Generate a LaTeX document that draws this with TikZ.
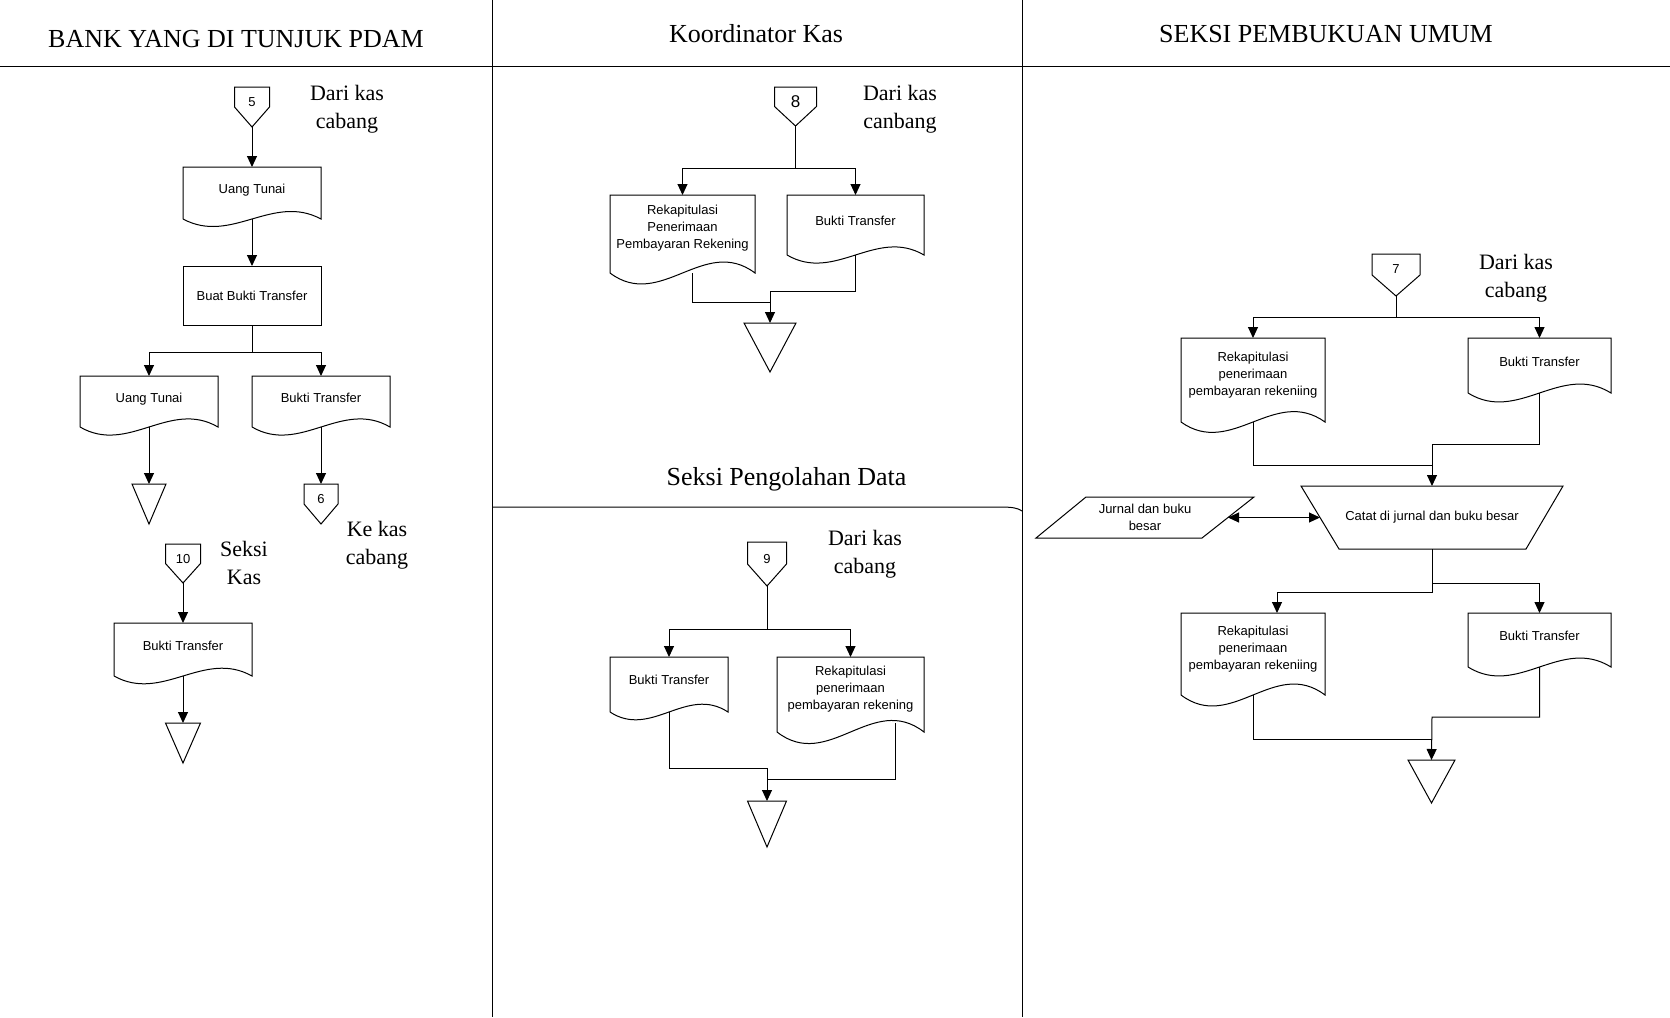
\documentclass[tikz,border=0pt]{standalone}
\usepackage{fontspec}
\setmainfont{Liberation Serif}
\newfontfamily\sansf{Liberation Sans}
\usetikzlibrary{arrows.meta,calc}
\tikzset{
 ln/.style={line width=1pt, line join=miter},
 arr/.style={ln, -{Triangle[width=10pt,length=11pt]}},
 darr/.style={ln, {Triangle[width=10pt,length=11pt]}-{Triangle[width=10pt,length=11pt]}},
 shp/.style={draw=none, inner sep=0pt, outer sep=0pt, align=center, font=\sansf\fontsize{13}{17}\selectfont},
 sz/.style 2 args={minimum width=#1pt, minimum height=#2pt},
 hdr/.style={font=\fontsize{26}{30}\selectfont, inner sep=0pt},
 lbl/.style={font=\fontsize{22}{28}\selectfont, align=center, inner sep=0pt},
}
\newcommand\docout[2]{%
 \draw[ln] let \p1=(#1.south west), \p2=(#1.south east), \n1={0.35*(\x2-\x1)} in
 (#1.south west) -- (#1.north west) -- (#1.north east) -- (#1.south east)
 .. controls (\x2-\n1, \y2+#2) and (\x1+\n1, \y1-#2) .. (#1.south west);}
\newcommand\offpage[1]{%
 \draw[ln] (#1.north west) -- (#1.north east) -- ($(#1.north east)!0.5!(#1.south east)$)
 -- (#1.south) -- ($(#1.north west)!0.5!(#1.south west)$) -- cycle;}
\newcommand\mergetri[1]{\draw[ln] (#1.north west) -- (#1.north east) -- (#1.south) -- cycle;}
\begin{document}
\begin{tikzpicture}[x=1pt,y=-1pt]
\useasboundingbox (0,0) rectangle (1670,1017);
\fill[white] (0,0) rectangle (1670,1017);
% lanes
\draw[ln] (0,66) -- (1670,66);
\draw[ln] (492,0) -- (492,1017);
\draw[ln] (1022,0) -- (1022,1017);
\draw[ln] (492,507) -- (1000,507) .. controls (1012,507) and (1018,508) .. (1022,511);
\node[hdr] (h1) at (236,39) {BANK YANG DI TUNJUK PDAM};
\node[hdr] (h2) at (756,34) {Koordinator Kas};
\node[hdr] (h3) at (1326,34) {SEKSI PEMBUKUAN UMUM};
\node[hdr] (h4) at (786.5,479) {Seksi Pengolahan Data};
% ---------- left lane
\node[shp, sz={35}{40}, text depth=10pt] (c5) at (252,107) {5};
\node[shp, sz={138}{52}, text depth=8pt] (u1) at (252,193) {Uang Tunai};
\node[shp, sz={138}{59}, draw, ln] (bb) at (252,295.5) {Buat Bukti Transfer};
\coordinate (j1) at (252,352.7);
\node[shp, sz={138}{51}, text depth=8pt] (u2) at (149,401.5) {Uang Tunai};
\node[shp, sz={138}{51}, text depth=8pt] (bt1) at (321,401.5) {Bukti Transfer};
\node[shp, sz={34}{40}] (t1) at (149,504) {};
\node[shp, sz={34}{40}, text depth=10pt] (c6) at (321,504) {6};
\node[shp, sz={35}{39}, text depth=10pt] (c10) at (183,563.5) {10};
\node[shp, sz={138}{53}, text depth=8pt] (bt2) at (183,649.5) {Bukti Transfer};
\node[shp, sz={35}{40}] (t2) at (183,743) {};
\offpage{c5} \docout{u1}{26} \docout{u2}{28} \docout{bt1}{28}
\mergetri{t1} \offpage{c6} \offpage{c10} \docout{bt2}{27} \mergetri{t2}
\draw[arr] (c5.south) -- (u1.north);
\draw[arr] (u1.south) -- (bb.north);
\draw[ln] (bb.south) -- (j1);
\draw[arr] (j1) -| (u2.north);
\draw[arr] (j1) -| (bt1.north);
\draw[arr] (u2.south) -- (t1.north);
\draw[arr] (bt1.south) -- (c6.north);
\draw[arr] (c10.south) -- (bt2.north);
\draw[arr] (bt2.south) -- (t2.north);
\node[lbl] (l1) at (347,109) {Dari kas\\cabang};
\node[lbl] (l2) at (377,545.5) {Ke kas\\cabang};
\node[lbl] (l3) at (244,562.5) {Seksi\\Kas};
% ---------- Koordinator Kas
\node[shp, sz={42}{39}, text depth=9pt, font=\sansf\fontsize{17}{20}\selectfont] (c8) at (795.5,106.5) {8};
\coordinate (j2) at (795.5,168);
\node[shp, sz={145}{78}, text depth=14pt] (rk1) at (682.5,234) {Rekapitulasi\\Penerimaan\\Pembayaran Rekening};
\node[shp, sz={137}{60}, text depth=8pt] (bt3) at (855.5,225) {Bukti Transfer};
\node[shp, sz={52}{49}] (t3) at (770,347.5) {};
\coordinate (k3) at (770,291);
\coordinate (k3b) at (770,302);
\offpage{c8} \docout{rk1}{38} \docout{bt3}{28} \mergetri{t3}
\draw[line width=1.8pt] (c8.south) -- (j2);
\draw[arr] (j2) -| (rk1.north);
\draw[arr] (j2) -| (bt3.north);
\draw[arr] (bt3.south) |- (k3) -- (t3.north);
\draw[ln] ([xshift=9.5pt]rk1.south) |- (k3b);
\node[lbl] (l4) at (900,109.5) {Dari kas\\canbang};
% ---------- Seksi Pengolahan Data
\node[shp, sz={39}{44}, text depth=11pt] (c9) at (767,564) {9};
\coordinate (j4) at (767,629);
\node[shp, sz={118}{55}, text depth=9pt] (bt4) at (669,684.5) {Bukti Transfer};
\node[shp, sz={147}{75}, text depth=14pt] (rk2) at (850.5,694.5) {Rekapitulasi\\penerimaan\\pembayaran rekening};
\node[shp, sz={39}{46}] (t4) at (767,824) {};
\coordinate (k4) at (767,768);
\coordinate (k4b) at (767,779);
\offpage{c9} \docout{bt4}{27} \docout{rk2}{40} \mergetri{t4}
\draw[ln] (c9.south) -- (j4);
\draw[arr] (j4) -| (bt4.north);
\draw[arr] (j4) -| (rk2.north);
\draw[arr] (bt4.south) |- (k4) -- (t4.north);
\draw[ln] ([xshift=44.5pt,yshift=9pt]rk2.south) |- (k4b);
\node[lbl] (l5) at (865,554.5) {Dari kas\\cabang};
% ---------- Seksi Pembukuan Umum
\node[shp, sz={48}{42}, text depth=12pt] (c7) at (1396,275) {7};
\coordinate (j5) at (1396,317);
\node[shp, sz={144}{84}, text depth=13pt] (rk3) at (1253,380) {Rekapitulasi\\penerimaan\\pembayaran rekeniing};
\node[shp, sz={143}{55}, text depth=7pt] (bt5) at (1539.5,365.5) {Bukti Transfer};
\coordinate (k5) at (1432,444);
\coordinate (k5b) at (1432,465);
\node[shp, sz={262}{63}] (tz) at (1432,517.5) {Catat di jurnal dan buku besar};
\node[shp, sz={218}{41}] (pg) at (1145,517.5) {Jurnal dan buku\\besar};
\coordinate (k6b) at (1432,583);
\coordinate (k6) at (1432,592);
\node[shp, sz={144}{82}, text depth=12pt] (rk4) at (1253,654) {Rekapitulasi\\penerimaan\\pembayaran rekeniing};
\node[shp, sz={143}{54}, text depth=8pt] (bt6) at (1539.5,640) {Bukti Transfer};
\coordinate (k7) at (1432,717);
\coordinate (k7b) at (1432,739);
\node[shp, sz={47}{43}] (t5) at (1431.5,781.5) {};
\offpage{c7} \docout{rk3}{36} \docout{bt5}{31} \docout{rk4}{38} \docout{bt6}{31} \mergetri{t5}
\draw[ln] (tz.north west) -- (tz.north east) -- ([xshift=-37pt]tz.south east) -- ([xshift=38pt]tz.south west) -- cycle;
\draw[ln] ([xshift=50pt]pg.north west) -- (pg.north east) -- ([xshift=-52pt]pg.south east) -- (pg.south west) -- cycle;
\draw[ln] (c7.south) -- (j5);
\draw[arr] (j5) -| (rk3.north);
\draw[arr] (j5) -| (bt5.north);
\draw[arr] (bt5.south) |- (k5) -- (tz.north);
\draw[ln] (rk3.south) |- (k5b);
\draw[darr] ([xshift=-26pt]pg.east) -- ([xshift=19pt]tz.west);
\draw[arr] (tz.south) -- (k6) -| ([xshift=24pt]rk4.north);
\draw[arr] (k6b) -| (bt6.north);
\draw[arr] (bt6.south) |- (k7) -- (t5.north);
\draw[ln] (rk4.south) |- (k7b);
\node[lbl] (l6) at (1516,278) {Dari kas\\cabang};
\end{tikzpicture}
\end{document}
